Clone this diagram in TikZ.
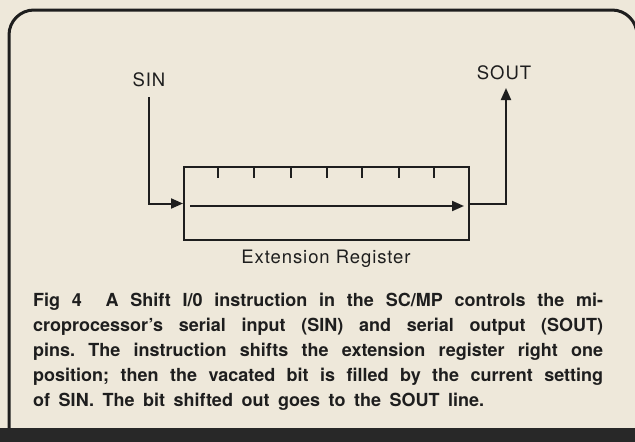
\documentclass[tikz,border=0pt]{standalone}
\usepackage{fontspec}
\setmainfont{TeX Gyre Heros}
\newfontfamily\lblfont[LetterSpace=5]{TeX Gyre Heros}
\newfontfamily\capfont{TeX Gyre Heros}
\usetikzlibrary{arrows.meta}
\definecolor{paper}{RGB}{238,232,218}
\definecolor{ink}{RGB}{30,30,30}
\definecolor{band}{RGB}{40,40,40}
\frenchspacing
\begin{document}
\begin{tikzpicture}[x=1pt,y=-1pt,
  wire/.style={draw=ink,line width=2pt},
  arr/.style={wire,-{Triangle[length=12pt,width=10pt]}},
  lbl/.style={inner sep=0pt,text=ink,font=\lblfont\fontsize{18.5}{21}\selectfont},
  capline/.style={inner sep=0pt,anchor=base west,text=ink,font=\capfont\bfseries\fontsize{18}{20}\selectfont},
  regbox/.style={draw=ink,line width=2pt,minimum width=285pt,minimum height=73pt,inner sep=0pt}]
\useasboundingbox (0,0) rectangle (635,442);
\fill[paper] (0,0) rectangle (635,442);
% frame
\draw[draw=ink,line width=3pt,rounded corners=25pt] (9,432) -- (9,10) -- (637,10) -- (637,432);
\fill[band] (0,428) rectangle (635,442);
% register
\node[regbox] (reg) at (326.5,203.5) {};
\foreach \x in {218,254,291,327,362,399,434}
  \draw[wire] (\x,167) -- (\x,178);
\coordinate (rin) at ([xshift=7pt,yshift=-2.5pt]reg.west);
\coordinate (rout) at ([xshift=-6pt,yshift=-2.5pt]reg.east);
\draw[arr] (rin) -- (rout);
% labels
\node[lbl,anchor=base] (sin) at (149,86) {SIN};
\node[lbl,anchor=base] (sout) at (504,79) {SOUT};
\node[lbl,anchor=base] (ext) at (326,263) {Extension Register};
\coordinate (sintop) at (149,97);
\coordinate (souttop) at (506,88);
\draw[arr] (sintop) |- (reg.west);
\draw[arr] (reg.east) -| (souttop);
% caption
\node[capline] (c1) at (33,306.7) {\makebox[570pt][s]{Fig 4\ \ A Shift I/0 instruction in the SC/MP controls the mi-}};
\node[capline] (c2) at (33,331.7) {\makebox[570pt][s]{croprocessor’s serial input (SIN) and serial output (SOUT)}};
\node[capline] (c3) at (33,356.7) {\makebox[570pt][s]{pins. The instruction shifts the extension register right one}};
\node[capline] (c4) at (33,381.7) {\makebox[570pt][s]{position; then the vacated bit is filled by the current setting}};
\node[capline] (c5) at (33,406.7) {\makebox[451pt][s]{of SIN. The bit shifted out goes to the SOUT line.}};
\end{tikzpicture}
\end{document}
